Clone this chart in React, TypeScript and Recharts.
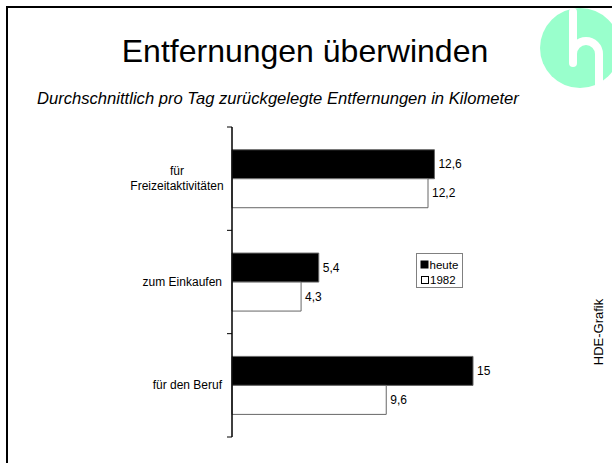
import React from 'react';
import { BarChart, Bar, XAxis, YAxis, LabelList, Legend } from 'recharts';

const categories = ['für\nFreizeitaktivitäten', 'zum Einkaufen', 'für den Beruf'];
const heute = [12.6, 5.4, 15];
const values1982 = [12.2, 4.3, 9.6];
const seriesNames = ['heute', '1982'];
const title = 'Entfernungen überwinden';
const subtitle = 'Durchschnittlich pro Tag zurückgelegte Entfernungen in Kilometer';
const sourceText = 'HDE-Grafik';

const data = categories.map((c, i) => ({ name: c, heute: heute[i], y1982: values1982[i] }));

const FONT = '"Liberation Sans", Arial, Helvetica, sans-serif';

const CHART_H = 463;
const M_TOP = 127;
const M_BOTTOM = 26;
const BAND = (CHART_H - M_TOP - M_BOTTOM) / categories.length;

const fmt = (v: any) => String(v).replace('.', ',');

const CategoryTick = (props: any) => {
  const { x, y, payload, index } = props;
  const lines: string[] = String(payload.value).split('\n');
  const ax = x;
  const marks = (
    <g>
      <line x1={ax - 5} x2={ax} y1={y - BAND / 2} y2={y - BAND / 2} stroke="#000" strokeWidth={1} />
      {index === categories.length - 1 ? (
        <line x1={ax - 5} x2={ax} y1={y + BAND / 2} y2={y + BAND / 2} stroke="#000" strokeWidth={1} />
      ) : null}
    </g>
  );
  if (lines.length === 1) {
    return (
      <g>
        {marks}
        <text x={x - 10} y={y} dy={4} textAnchor="end" fontSize={12} fontFamily={FONT} fill="#000">
          {lines[0]}
        </text>
      </g>
    );
  }
  return (
    <g>
      {marks}
      <text x={x - 55} y={y} textAnchor="middle" fontSize={12} fontFamily={FONT} fill="#000">
        {lines.map((l, i) => (
          <tspan key={i} x={x - 55} dy={i === 0 ? -3.5 : 15}>
            {l}
          </tspan>
        ))}
      </text>
    </g>
  );
};

const LegendContent = () => (
  <svg width={47} height={35} style={{ display: 'block' }}>
    <rect x={0.5} y={0.5} width={46} height={34} fill="#fff" stroke="#808080" />
    <rect x={5} y={8} width={7} height={7} fill="#000" stroke="#000" />
    <text x={13.5} y={15.5} fontSize={11.5} fontFamily={FONT} fill="#000">{seriesNames[0]}</text>
    <rect x={5.5} y={23.5} width={7} height={7} fill="#fff" stroke="#000" />
    <text x={14} y={31} fontSize={11.5} fontFamily={FONT} fill="#000">{seriesNames[1]}</text>
  </svg>
);

export default function App() {
  return (
    <div style={{ position: 'absolute', left: 0, top: 0, width: 612, height: 463, overflow: 'hidden', background: '#fff' }}>
      <svg width={612} height={463} style={{ position: 'absolute', left: 0, top: 0 }}>
        <circle cx={580} cy={48} r={40} fill="#99FFCC" />
        <line x1={573} y1={12} x2={573} y2={63} stroke="#fff" strokeWidth={8} strokeLinecap="round" />
        <path d="M 573 58 L 573 54 A 13 13 0 0 1 599 54 L 599 95" stroke="#fff" strokeWidth={8} fill="none" />
        <rect x={7} y={7} width={800} height={700} fill="none" stroke="#000" strokeWidth={2} />
        <text x={305} y={62} textAnchor="middle" fontSize={32} fontFamily={FONT} fill="#000">{title}</text>
        <text x={37} y={104} fontSize={16.6} fontStyle="italic" fontFamily={FONT} fill="#000">{subtitle}</text>
        <text transform="translate(603,332) rotate(-90)" textAnchor="middle" fontSize={13} fontFamily={FONT} fill="#000">
          {sourceText}
        </text>
      </svg>
      <div style={{ position: 'absolute', left: 0, top: 0 }}>
        <BarChart
          width={612}
          height={CHART_H}
          data={data}
          layout="vertical"
          margin={{ top: M_TOP, right: 139, bottom: M_BOTTOM, left: 0 }}
          barCategoryGap="22%"
          barGap={0}
        >
          <XAxis type="number" domain={[0, 15]} hide />
          <YAxis
            type="category"
            dataKey="name"
            width={232}
            axisLine={{ stroke: '#000', strokeWidth: 1.5 }}
            tickLine={false}
            tickSize={0}
            tickMargin={0}
            tick={<CategoryTick />}
          />
          <Legend
            layout="vertical"
            align="center"
            verticalAlign="middle"
            content={<LegendContent />}
            wrapperStyle={{ position: 'absolute', left: 416, top: 253, width: 47, height: 35 }}
          />
          <Bar dataKey="heute" name={seriesNames[0]} fill="#000" stroke="#666" isAnimationActive={false}>
            <LabelList dataKey="heute" position="right" offset={4} formatter={fmt} fontSize={12} fontFamily={FONT} fill="#000" />
          </Bar>
          <Bar dataKey="y1982" name={seriesNames[1]} fill="#fff" stroke="#666" isAnimationActive={false}>
            <LabelList dataKey="y1982" position="right" offset={4} formatter={fmt} fontSize={12} fontFamily={FONT} fill="#000" />
          </Bar>
        </BarChart>
      </div>
    </div>
  );
}
